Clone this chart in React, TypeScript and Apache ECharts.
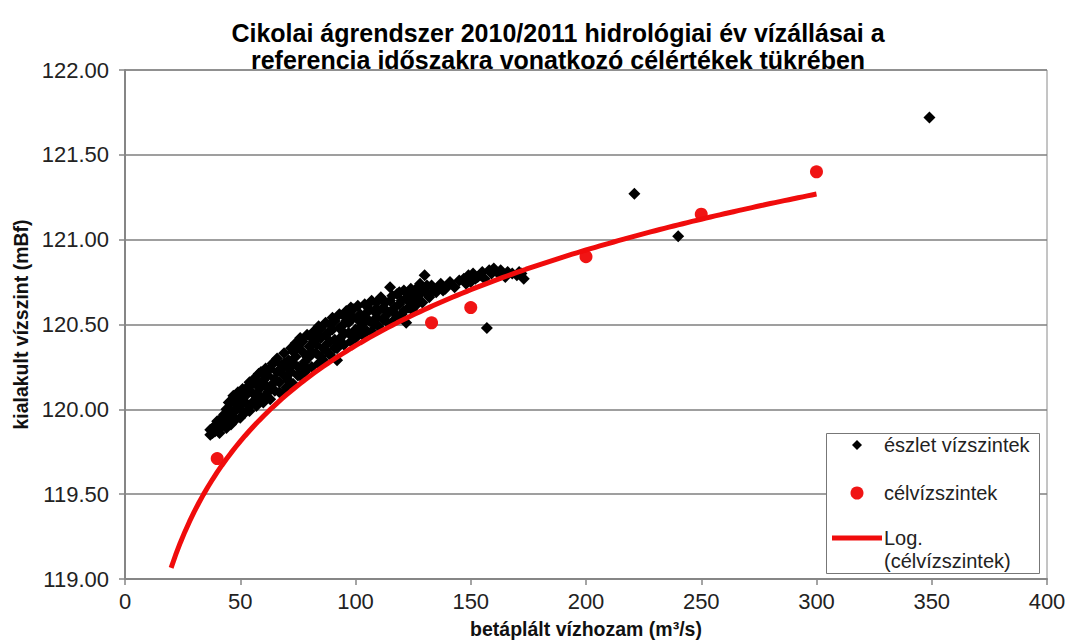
import React, { useEffect, useRef } from "react";
import * as echarts from "echarts";

const TITLE_LINES = [
  "Cikolai ágrendszer 2010/2011 hidrológiai év vízállásai a",
  "referencia időszakra vonatkozó célértékek tükrében",
];
const X_NAME = "betáplált vízhozam (m³/s)";
const Y_NAME = "kialakult vízszint (mBf)";
const LEGEND_OBSERVED = "észlet vízszintek";
const LEGEND_TARGET = "célvízszintek";
const LEGEND_TREND_1 = "Log.";
const LEGEND_TREND_2 = "(célvízszintek)";

// observed water levels [discharge m3/s, level mBf]
const observed: number[][] = [
  [37, 119.85], [37, 119.88], [38, 119.86], [38, 119.89], [39, 119.9], [39, 119.87], [40, 119.93], [40, 119.88],
  [41, 119.86], [41, 119.91], [42, 119.95], [42, 119.9], [43, 119.92], [43, 119.97], [44, 120.0], [44, 119.89],
  [44, 119.94], [45, 119.96], [45, 120.04], [46, 119.91], [46, 119.99], [46, 120.05], [47, 120.08], [47, 119.98],
  [48, 119.94], [48, 120.03], [48, 120.08], [49, 120.1], [49, 120.02], [50, 119.95], [50, 120.06], [50, 120.0],
  [51, 120.12], [51, 120.04], [52, 119.98], [52, 120.08], [53, 120.03], [53, 120.09], [53, 120.13], [54, 120.16],
  [54, 119.99], [55, 120.1], [55, 120.03], [55, 120.15], [56, 120.05], [56, 120.18], [57, 120.02], [57, 120.09],
  [57, 120.16], [58, 120.13], [58, 120.21], [59, 120.07], [59, 120.13], [59, 120.22], [60, 120.04], [60, 120.17],
  [61, 120.24], [61, 120.08], [61, 120.14], [62, 120.1], [62, 120.2], [63, 120.06], [63, 120.12], [63, 120.24],
  [64, 120.15], [64, 120.27], [65, 120.11], [65, 120.18], [65, 120.28], [66, 120.22], [66, 120.3], [67, 120.16],
  [67, 120.23], [67, 120.1], [68, 120.09], [68, 120.26], [69, 120.33], [69, 120.2], [69, 120.27], [70, 120.19],
  [70, 120.13], [71, 120.29], [71, 120.17], [71, 120.24], [72, 120.36], [72, 120.22], [73, 120.15], [73, 120.27],
  [73, 120.34], [74, 120.31], [74, 120.39], [75, 120.25], [75, 120.2], [75, 120.37], [76, 120.2], [76, 120.42],
  [77, 120.34], [77, 120.26], [77, 120.4], [78, 120.28], [78, 120.22], [79, 120.44], [79, 120.31], [79, 120.24],
  [80, 120.37], [80, 120.31], [81, 120.25], [81, 120.34], [81, 120.42], [82, 120.46], [82, 120.4], [83, 120.33],
  [83, 120.38], [83, 120.45], [84, 120.27], [84, 120.49], [85, 120.42], [85, 120.31], [85, 120.48], [86, 120.36],
  [86, 120.29], [87, 120.51], [87, 120.35], [87, 120.44], [88, 120.45], [88, 120.39], [89, 120.32], [89, 120.4],
  [89, 120.5], [90, 120.54], [90, 120.47], [91, 120.41], [91, 120.36], [91, 120.52], [92, 120.29], [92, 120.36],
  [93, 120.56], [93, 120.41], [93, 120.48], [94, 120.49], [94, 120.43], [95, 120.38], [95, 120.45], [95, 120.55],
  [96, 120.58], [96, 120.52], [97, 120.45], [97, 120.51], [97, 120.57], [98, 120.4], [98, 120.6], [99, 120.54],
  [99, 120.44], [99, 120.59], [100, 120.47], [100, 120.42], [101, 120.61], [101, 120.45], [101, 120.53],
  [102, 120.56], [102, 120.48], [103, 120.5], [103, 120.44], [104, 120.62], [104, 120.53], [105, 120.57],
  [105, 120.46], [106, 120.52], [106, 120.59], [107, 120.46], [107, 120.64], [108, 120.58], [108, 120.5],
  [109, 120.54], [109, 120.63], [110, 120.49], [110, 120.58], [111, 120.66], [112, 120.6], [112, 120.53],
  [113, 120.55], [113, 120.63], [114, 120.51], [114, 120.57], [115, 120.72], [115, 120.64], [116, 120.58],
  [116, 120.67], [117, 120.53], [117, 120.6], [118, 120.68], [118, 120.55], [119, 120.62], [119, 120.69],
  [120, 120.56], [120, 120.64], [121, 120.7], [121, 120.58], [122, 120.51], [122, 120.65], [123, 120.6],
  [123, 120.67], [124, 120.71], [124, 120.63], [125, 120.66], [125, 120.58], [126, 120.61], [126, 120.69],
  [127, 120.72], [127, 120.64], [128, 120.68], [128, 120.74], [129, 120.63], [129, 120.7], [130, 120.79],
  [130, 120.7], [131, 120.68], [131, 120.73], [132, 120.66], [133, 120.73], [134, 120.7], [135, 120.69],
  [136, 120.72], [137, 120.74], [138, 120.7], [139, 120.71], [140, 120.73], [141, 120.75], [143, 120.72],
  [145, 120.76], [147, 120.77], [148, 120.74], [149, 120.79], [150, 120.75], [151, 120.8], [152, 120.77],
  [153, 120.78], [154, 120.79], [155, 120.81], [156, 120.77], [157, 120.48], [158, 120.82], [159, 120.8],
  [160, 120.83], [162, 120.8], [163, 120.82], [165, 120.78], [166, 120.81], [168, 120.8], [170, 120.79],
  [171, 120.81], [172, 120.8], [173, 120.77], [221, 121.27], [240, 121.02], [349, 121.72],
];

// target water levels [discharge m3/s, level mBf]
const targets: number[][] = [
  [40, 119.71], [133, 120.51], [150, 120.6], [200, 120.9], [250, 121.15], [300, 121.4],
];

const TREND_FROM = 20;
const TREND_TO = 300;

const X_MIN = 0, X_MAX = 400, X_STEP = 50;
const Y_MIN = 119, Y_MAX = 122, Y_STEP = 0.5;

// Excel-style logarithmic trendline: least squares of level on ln(discharge)
function logTrend(points: number[][], from: number, to: number): number[][] {
  const n = points.length;
  const lx = points.map((p) => Math.log(p[0]));
  const ys = points.map((p) => p[1]);
  const mx = lx.reduce((a, b) => a + b, 0) / n;
  const my = ys.reduce((a, b) => a + b, 0) / n;
  let sxy = 0, sxx = 0;
  for (let i = 0; i < n; i++) {
    sxy += (lx[i] - mx) * (ys[i] - my);
    sxx += (lx[i] - mx) * (lx[i] - mx);
  }
  const a = sxy / sxx;
  const b = my - a * mx;
  const out: number[][] = [];
  for (let x = from; x <= to; x += 2) out.push([x, a * Math.log(x) + b]);
  return out;
}

export default function App() {
  const ref = useRef<HTMLDivElement>(null);
  useEffect(() => {
    const chart = echarts.init(ref.current!, null, { renderer: "svg" });
    const font = "'Liberation Sans', Arial, sans-serif";
    const trend = logTrend(targets, TREND_FROM, TREND_TO);
    chart.setOption({
      animation: false,
      backgroundColor: "#ffffff",
      textStyle: { fontFamily: font },
      grid: {
        left: 125, right: 24, top: 70, bottom: 62,
        show: true, borderColor: "#8a8a8a", borderWidth: 1,
      },
      xAxis: {
        type: "value", min: X_MIN, max: X_MAX, interval: X_STEP,
        name: X_NAME, nameLocation: "middle", nameGap: 40,
        nameTextStyle: { fontSize: 19.5, fontWeight: "bold", color: "#111", fontFamily: font },
        axisLine: { show: true, lineStyle: { color: "#868686", width: 2 } },
        axisTick: { show: true, length: 6, lineStyle: { color: "#868686", width: 1.5 } },
        axisLabel: { fontSize: 22, color: "#222", margin: 11, fontFamily: font },
        splitLine: { show: false },
      },
      yAxis: {
        type: "value", min: Y_MIN, max: Y_MAX, interval: Y_STEP,
        name: Y_NAME, nameLocation: "middle", nameGap: 92, nameRotate: 90,
        nameTextStyle: { fontSize: 19.5, fontWeight: "bold", color: "#111", fontFamily: font },
        axisLine: { show: true, lineStyle: { color: "#868686", width: 2 } },
        axisTick: { show: true, length: 6, lineStyle: { color: "#868686", width: 1.5 } },
        axisLabel: {
          fontSize: 22, color: "#222", margin: 16, fontFamily: font,
          formatter: (v: number) => v.toFixed(2),
        },
        splitLine: { show: true, lineStyle: { color: "#7f7f7f", width: 1.5 } },
      },
      series: [
        {
          name: LEGEND_OBSERVED, type: "scatter", data: observed,
          symbol: "diamond", symbolSize: 12,
          itemStyle: { color: "#000000", opacity: 1 }, z: 2,
        },
        {
          name: LEGEND_TARGET, type: "scatter", data: targets,
          symbol: "circle", symbolSize: 13,
          itemStyle: { color: "#f01414", opacity: 1 }, z: 3,
        },
        {
          name: "Log. (célvízszintek)", type: "line", data: trend,
          showSymbol: false, smooth: false,
          lineStyle: { color: "#f00c0c", width: 5 }, z: 4,
        },
      ],
      graphic: [
        {
          type: "text", x: 558, y: 33,
          style: {
            text: TITLE_LINES[0], textAlign: "center", textVerticalAlign: "middle",
            font: `bold 25px ${font}`, fill: "#000",
          },
        },
        {
          type: "text", x: 558, y: 60,
          style: {
            text: TITLE_LINES[1], textAlign: "center", textVerticalAlign: "middle",
            font: `bold 25px ${font}`, fill: "#000",
          },
        },
        {
          type: "rect", shape: { x: 826.5, y: 433.5, width: 213, height: 140 },
          style: { fill: "#ffffff", stroke: "#777777", lineWidth: 1 }, z: 10,
        },
        {
          type: "polygon", z: 11,
          shape: { points: [[857, 440], [862, 445], [857, 450], [852, 445]] },
          style: { fill: "#000" },
        },
        {
          type: "text", x: 884, y: 445, z: 11,
          style: { text: LEGEND_OBSERVED, textVerticalAlign: "middle", font: `20px ${font}`, fill: "#222" },
        },
        {
          type: "circle", z: 11, shape: { cx: 857, cy: 493, r: 6.5 }, style: { fill: "#f01414" },
        },
        {
          type: "text", x: 884, y: 493, z: 11,
          style: { text: LEGEND_TARGET, textVerticalAlign: "middle", font: `20px ${font}`, fill: "#222" },
        },
        {
          type: "line", z: 11, shape: { x1: 832, y1: 538, x2: 882, y2: 538 },
          style: { stroke: "#f00c0c", lineWidth: 5 },
        },
        {
          type: "text", x: 884, y: 538, z: 11,
          style: { text: LEGEND_TREND_1, textVerticalAlign: "middle", font: `20px ${font}`, fill: "#222" },
        },
        {
          type: "text", x: 884, y: 561, z: 11,
          style: { text: LEGEND_TREND_2, textVerticalAlign: "middle", font: `20px ${font}`, fill: "#222" },
        },
      ],
    });
    return () => chart.dispose();
  }, []);
  return (
    <div
      ref={ref}
      style={{ position: "absolute", left: 0, top: 0, width: 1071, height: 644 }}
    />
  );
}
